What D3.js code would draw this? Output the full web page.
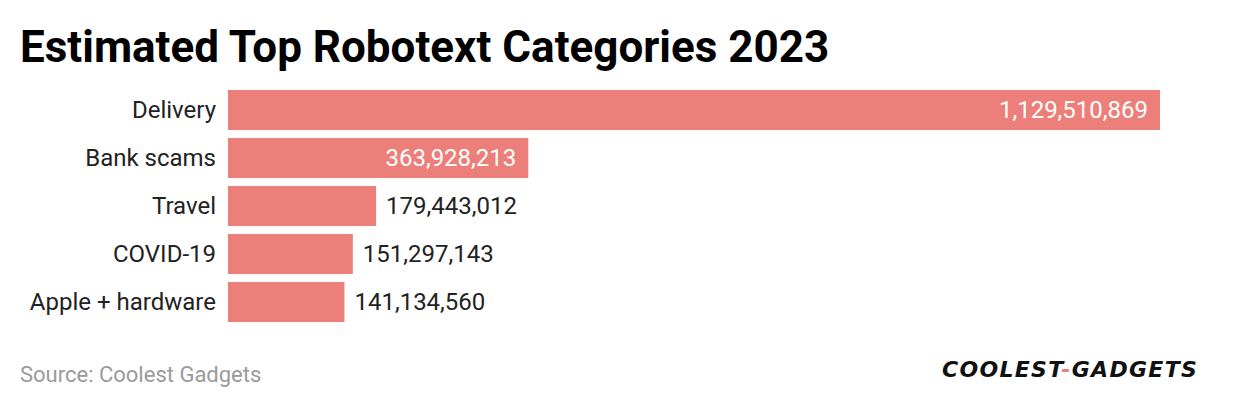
<!DOCTYPE html>
<html>
<head>
<meta charset="utf-8">
<script src="https://cdn.jsdelivr.net/npm/d3@7"></script>
<style>
  body { margin: 0; background: #fff; }
  svg { display: block; font-family: Roboto, "Noto Sans", sans-serif; }
</style>
</head>
<body>
<div id="container"></div>
<script>
// chart data
var categories = ["Delivery", "Bank scams", "Travel", "COVID-19", "Apple + hardware"];
var values = [1129510869, 363928213, 179443012, 151297143, 141134560];

var width = 1240;
var height = 408;
var left = 228;
var top0 = 90;

var svg = d3.select("div#container").append("svg")
    .attr("width", width)
    .attr("height", height);

//----------------------------SCALES-----------------------------//
var xScale = d3.scaleLinear()
    .domain([0, d3.max(values)])
    .range([0, 932]);

var yScale = d3.scaleBand()
    .domain(categories)
    .range([top0 - 4, top0 - 4 + 48 * categories.length])
    .paddingInner(8 / 48)
    .paddingOuter(4 / 48);

var fmt = d3.format(",");

//----------------------------TITLE------------------------------//
svg.append("text")
    .attr("x", 20)
    .attr("y", 62)
    .style("font-size", "44px")
    .style("font-weight", "bold")
    .style("fill", "#000")
    .text("Estimated Top Robotext Categories 2023");

//----------------------------BARS-------------------------------//
var rows = svg.selectAll(".row")
    .data(categories)
    .enter()
    .append("g");

rows.append("rect")
    .attr("x", left)
    .attr("y", d => yScale(d))
    .attr("width", (d, i) => xScale(values[i]))
    .attr("height", yScale.bandwidth())
    .style("fill", "#ec7f79");

rows.append("text")
    .attr("x", left - 12)
    .attr("y", d => yScale(d) + yScale.bandwidth() / 2)
    .attr("dy", "0.35em")
    .style("text-anchor", "end")
    .style("font-size", "24px")
    .style("fill", "#222")
    .text(d => d);

// value labels: inside for long bars, outside for short ones
rows.append("text")
    .attr("x", function (d, i) {
        var w = xScale(values[i]);
        return w > 250 ? left + w - 12 : left + w + 10;
    })
    .attr("y", d => yScale(d) + yScale.bandwidth() / 2)
    .attr("dy", "0.35em")
    .style("text-anchor", (d, i) => xScale(values[i]) > 250 ? "end" : "start")
    .style("font-size", "24px")
    .style("fill", (d, i) => xScale(values[i]) > 250 ? "#fff" : "#222")
    .text((d, i) => fmt(values[i]));

//----------------------------FOOTER-----------------------------//
svg.append("text")
    .attr("x", 20)
    .attr("y", 382)
    .style("font-size", "22px")
    .style("fill", "#9a9a9a")
    .text("Source: Coolest Gadgets");

var logo = svg.append("text")
    .attr("x", 942)
    .attr("y", 377)
    .style("font-family", "'DejaVu Sans', sans-serif")
    .style("font-size", "22px")
    .style("font-weight", "bold")
    .style("font-style", "italic")
    .style("letter-spacing", "1.3px")
    .style("fill", "#111");

logo.append("tspan").text("COOLEST");
logo.append("tspan").style("fill", "#ec7f79").text("-");
logo.append("tspan").text("GADGETS");
</script>
</body>
</html>
